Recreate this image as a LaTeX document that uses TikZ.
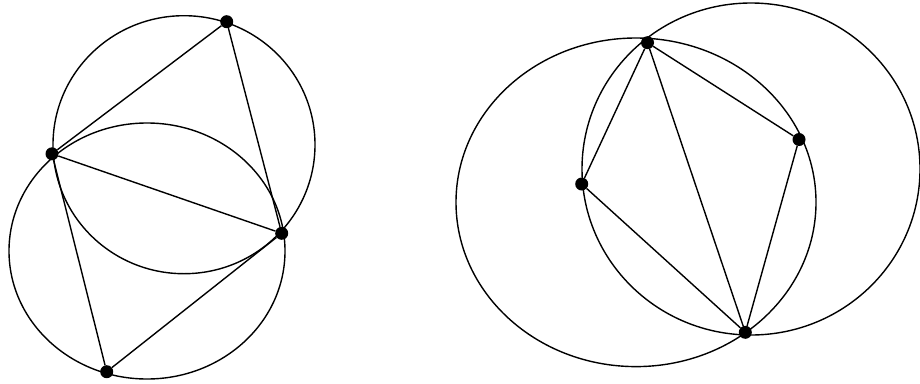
\documentclass[tikz,border=0pt]{standalone}
\begin{document}
\begin{tikzpicture}[x=1pt,y=-1pt,
  curve/.style={line width=1.4pt,black},
  seg/.style={line width=1.4pt,black},
  pt/.style={circle,fill=black,inner sep=0pt,minimum size=13pt}]
\useasboundingbox (0,0) rectangle (920,383);
% left figure
\draw[curve] (184,144.7) ellipse [x radius=131pt, y radius=129pt];
\draw[curve] (147,251) ellipse [x radius=138pt, y radius=128pt];
\node[pt] (A) at (226.7,21.7) {};
\node[pt] (B) at (52,153.8) {};
\node[pt] (C) at (281.7,233.3) {};
\node[pt] (D) at (106.7,371.7) {};
\draw[seg] (A) -- (B);
\draw[seg] (A) -- (C);
\draw[seg] (B) -- (C);
\draw[seg] (B) -- (D);
\draw[seg] (D) -- (C);
% right figure
\draw[curve] (636,202.3) ellipse [x radius=180pt, y radius=164.3pt];
\draw[curve] (751,169) ellipse [x radius=169pt, y radius=166pt];
\node[pt] (P) at (647.5,42.7) {};
\node[pt] (Q) at (799,139.5) {};
\node[pt] (R) at (581.7,184) {};
\node[pt] (S) at (745.3,332.3) {};
\draw[seg] (P) -- (R);
\draw[seg] (P) -- (S);
\draw[seg] (P) -- (Q);
\draw[seg] (Q) -- (S);
\draw[seg] (R) -- (S);
\end{tikzpicture}
\end{document}
